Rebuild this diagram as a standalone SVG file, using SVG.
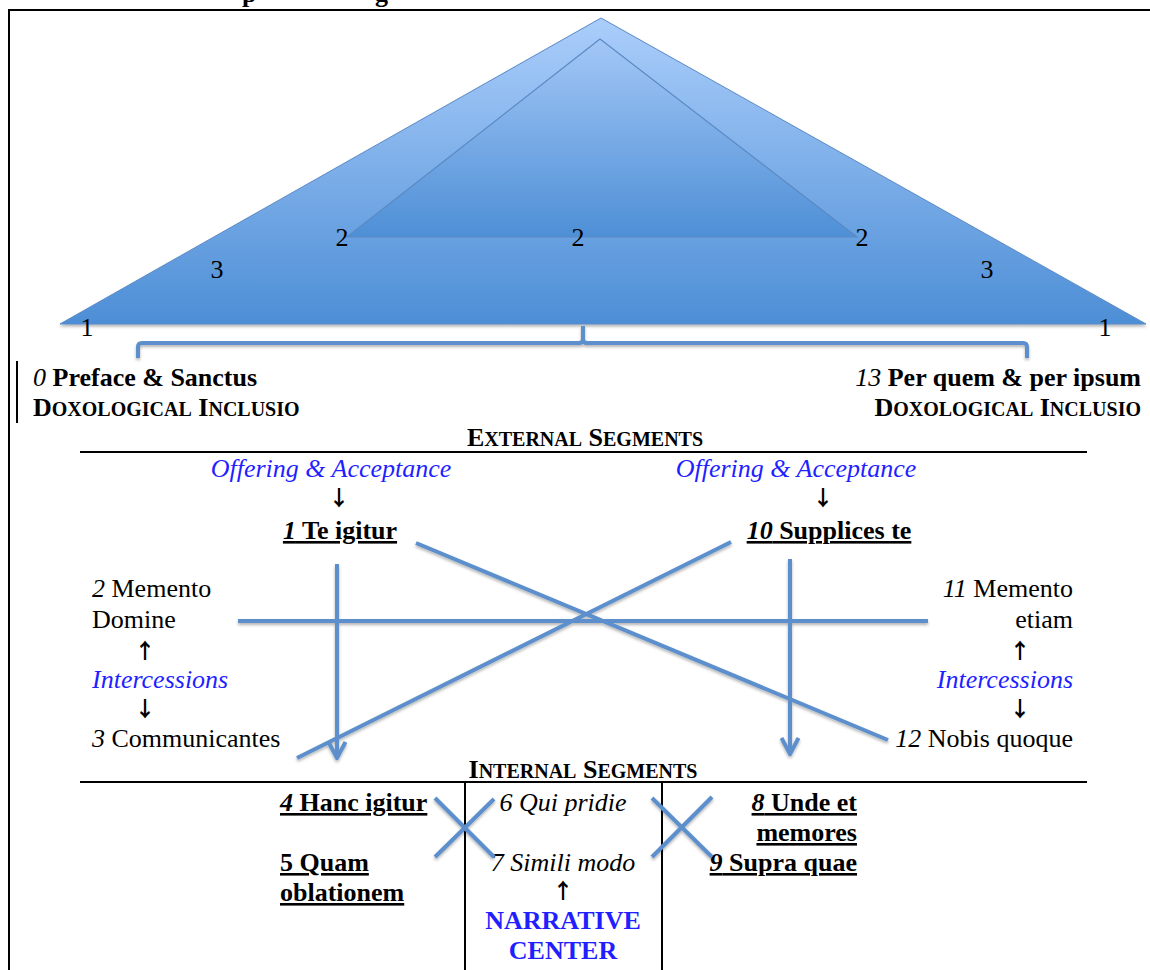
<svg xmlns="http://www.w3.org/2000/svg" width="1150" height="970" viewBox="0 0 1150 970" font-family="'Liberation Serif', 'Times New Roman', 'DejaVu Serif', serif">
<style>
text{font-family:'Liberation Serif','Times New Roman','DejaVu Serif',serif;font-size:26px;fill:#000}
.b{font-weight:bold}
.i{font-style:italic}
.blue{fill:#1f1fff}
.u{text-decoration:underline}
.mid{text-anchor:middle}
.end{text-anchor:end}
.sc{font-size:20px}
.ar{font-family:'Noto Sans CJK JP','DejaVu Sans',sans-serif;font-size:21px;font-weight:bold;fill:#000}
.frame{stroke:#000;stroke-width:2;fill:none}
.conn{stroke:#5b8fcc;stroke-width:4;fill:none;stroke-linecap:butt}
.brace{stroke:#5b8fcc;stroke-width:4;fill:none;stroke-linejoin:round}
</style>
<defs>
<linearGradient id="gOuter" x1="0" y1="0" x2="0" y2="1">
<stop offset="0" stop-color="#abcefb"/>
<stop offset="1" stop-color="#4d8ed6"/>
</linearGradient>
<linearGradient id="gInner" x1="0" y1="0" x2="0" y2="1">
<stop offset="0" stop-color="#a3c7f6"/>
<stop offset="1" stop-color="#4e8fd6"/>
</linearGradient>
<filter id="sh" x="-10%" y="-10%" width="120%" height="130%">
<feDropShadow dx="0" dy="2" stdDeviation="1.5" flood-color="#000" flood-opacity="0.3"/>
</filter>
<marker id="arr" viewBox="0 0 20 20" refX="18" refY="10" markerWidth="20" markerHeight="20" markerUnits="userSpaceOnUse" orient="auto">
<path d="M2,1.5 L18,10 L2,18.5" fill="none" stroke="#5b8fcc" stroke-width="4"/>
</marker>
</defs>

<!-- cut-off title descenders -->
<g id="title">
<text class="b" x="242" y="2" font-size="26">p</text>
<text class="b" x="375" y="2" font-size="26">g</text>
</g>

<!-- frame -->
<g id="frame">
<path class="frame" d="M9,970 L9,10 L1150,10"/>
<line x1="17" y1="361" x2="17" y2="423" stroke="#000" stroke-width="2"/>
<line x1="80" y1="452" x2="1087" y2="452" stroke="#000" stroke-width="2"/>
<line x1="80" y1="782" x2="1087" y2="782" stroke="#000" stroke-width="2"/>
<line x1="465" y1="782" x2="465" y2="970" stroke="#000" stroke-width="2"/>
<line x1="662" y1="782" x2="662" y2="970" stroke="#000" stroke-width="2"/>
</g>

<!-- triangles -->
<g id="outer-triangle">
<polygon points="601,18 60,324 1146,324" fill="url(#gOuter)" stroke="#5a8ac6" stroke-width="1" filter="url(#sh)"/>
</g>
<g id="inner-triangle">
<polygon points="600,39 347,237 857,237" fill="url(#gInner)" stroke="#5a8ac4" stroke-width="1.2"/>
<line x1="347" y1="237" x2="857" y2="237" stroke="#4677b3" stroke-width="2" filter="url(#sh)"/>
</g>
<g id="triangle-labels">
<text x="342" y="246" class="mid">2</text>
<text x="578" y="246" class="mid">2</text>
<text x="862" y="246" class="mid">2</text>
<text x="217" y="278" class="mid">3</text>
<text x="987" y="278" class="mid">3</text>
<text x="87" y="336" class="mid">1</text>
<text x="1105" y="336" class="mid">1</text>
</g>

<!-- brace -->
<g id="brace">
<path class="brace" d="M138,358 L138,347 Q138,343 142,343 L579,343 Q583,343 583,339 L583,326 M583,339 Q583,343 587,343 L1023,343 Q1027,343 1027,347 L1027,358" filter="url(#sh)"/>
</g>

<g id="node-0">
<text x="33" y="386"><tspan class="i">0</tspan><tspan class="b"> Preface &amp; Sanctus</tspan></text>
<text x="33" y="416" class="b">D<tspan class="sc">OXOLOGICAL</tspan> I<tspan class="sc">NCLUSIO</tspan></text>
</g>
<g id="node-13">
<text x="1141" y="386" class="end"><tspan class="i">13</tspan><tspan class="b"> Per quem &amp; per ipsum</tspan></text>
<text x="1141" y="416" class="b end">D<tspan class="sc">OXOLOGICAL</tspan> I<tspan class="sc">NCLUSIO</tspan></text>
</g>

<g id="external-heading">
<text x="585" y="446" class="b mid">E<tspan class="sc">XTERNAL</tspan> S<tspan class="sc">EGMENTS</tspan></text>
</g>

<g id="node-1">
<text x="331" y="477" class="i blue mid">Offering &amp; Acceptance</text>
<text x="339" y="505" class="ar mid">↓</text>
<text x="340" y="539" class="mid u"><tspan class="i b">1</tspan><tspan class="b"> Te igitur</tspan></text>
</g>
<g id="node-10">
<text x="796" y="477" class="i blue mid">Offering &amp; Acceptance</text>
<text x="823" y="505" class="ar mid">↓</text>
<text x="829" y="539" class="mid u"><tspan class="i b">10</tspan><tspan class="b"> Supplices te</tspan></text>
</g>

<g id="node-2-3">
<text x="92" y="597"><tspan class="i">2</tspan> Memento</text>
<text x="92" y="628">Domine</text>
<text x="145" y="658" class="ar mid">↑</text>
<text x="92" y="688" class="i blue">Intercessions</text>
<text x="145" y="716" class="ar mid">↓</text>
<text x="92" y="747"><tspan class="i">3</tspan> Communicantes</text>
</g>
<g id="node-11-12">
<text x="1073" y="597" class="end"><tspan class="i">11</tspan> Memento</text>
<text x="1073" y="628" class="end">etiam</text>
<text x="1020" y="658" class="ar mid">↑</text>
<text x="1073" y="688" class="i blue end">Intercessions</text>
<text x="1020" y="716" class="ar mid">↓</text>
<text x="1073" y="747" class="end"><tspan class="i">12</tspan> Nobis quoque</text>
</g>

<g id="internal-heading">
<text x="583" y="778" class="b mid">I<tspan class="sc">NTERNAL</tspan> S<tspan class="sc">EGMENTS</tspan></text>
</g>

<g id="node-4-5">
<text x="280" y="811" class="b u"><tspan class="i">4</tspan> Hanc igitur</text>
<text x="280" y="871" class="b u">5 Quam</text>
<text x="280" y="901" class="b u">oblationem</text>
</g>
<g id="node-6-7">
<text x="563" y="811" class="i mid">6 Qui pridie</text>
<text x="563" y="871" class="i mid">7 Simili modo</text>
<text x="563" y="898" class="ar mid">↑</text>
<text x="563" y="929" class="b blue mid">NARRATIVE</text>
<text x="563" y="959" class="b blue mid">CENTER</text>
</g>
<g id="node-8-9">
<text x="857" y="811" class="b u end"><tspan class="i">8</tspan> Unde et</text>
<text x="857" y="841" class="b u end">memores</text>
<text x="857" y="871" class="b u end"><tspan class="i">9</tspan> Supra quae</text>
</g>

<g id="connectors" filter="url(#sh)">
<line class="conn" x1="337" y1="564" x2="337" y2="758" marker-end="url(#arr)"/>
<line class="conn" x1="790" y1="559" x2="790" y2="754" marker-end="url(#arr)"/>
<line class="conn" x1="238" y1="621" x2="928" y2="621"/>
<line class="conn" x1="416" y1="543" x2="888" y2="740"/>
<line class="conn" x1="731" y1="542" x2="297" y2="758"/>
<line class="conn" x1="435" y1="798" x2="494" y2="857"/>
<line class="conn" x1="435" y1="857" x2="494" y2="799"/>
<line class="conn" x1="652" y1="798" x2="712" y2="857"/>
<line class="conn" x1="652" y1="857" x2="712" y2="797"/>
</g>
</svg>
